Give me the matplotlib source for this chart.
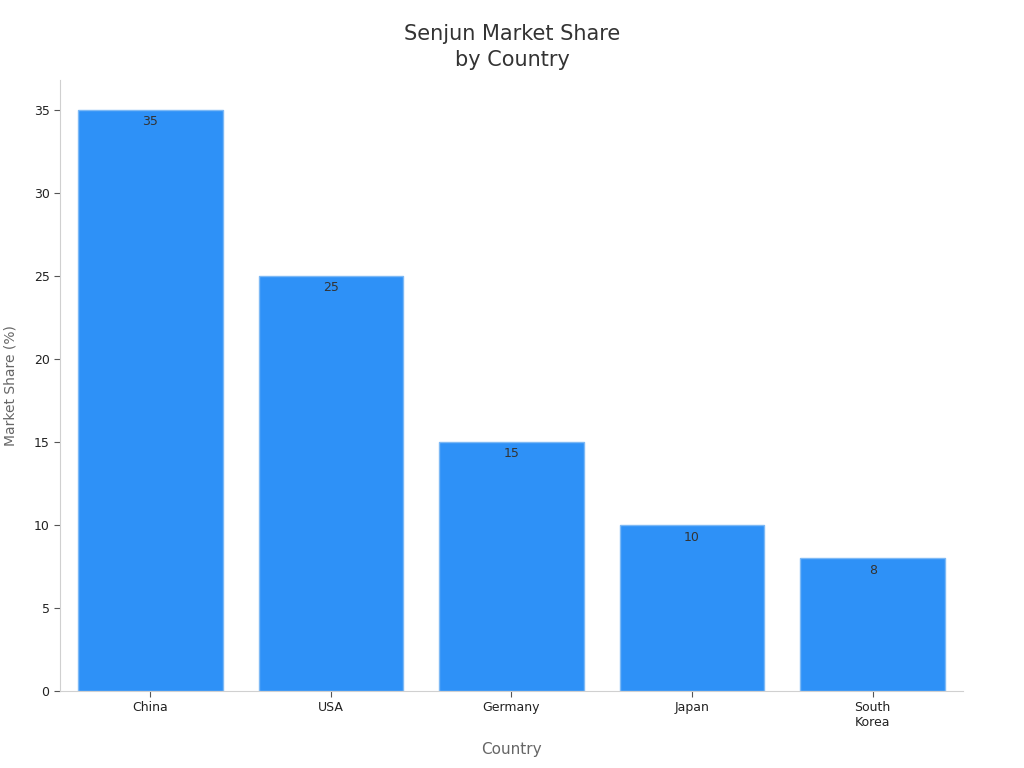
import matplotlib
matplotlib.use("Agg")
import matplotlib.pyplot as plt

countries = ["China", "USA", "Germany", "Japan", "South\nKorea"]
shares = [35, 25, 15, 10, 8]

fig = plt.figure(figsize=(10.24, 7.68), dpi=100)
ax = fig.add_axes([0.0586, 0.1003, 0.8818, 0.7955])

x = list(range(len(countries)))
bars = ax.bar(x, shares, width=0.8, color="#2E91F7", edgecolor="#7DB9F5", linewidth=1)
for b, v in zip(bars, shares):
    ax.annotate(str(v), (b.get_x() + b.get_width() / 2, v), xytext=(0, -4),
                textcoords="offset points", ha="center", va="top",
                fontsize=9, color="#333333")

ax.set_xlim(-0.5, 4.5)
ax.set_ylim(0, 36.8)
ax.set_xticks(x)
ax.set_xticklabels(countries, fontsize=9, color="#222222")
ax.set_yticks([0, 5, 10, 15, 20, 25, 30, 35])
ax.tick_params(axis="y", labelsize=9, labelcolor="#222222", color="#555555", length=4)
ax.tick_params(axis="x", color="#555555", length=4)
for s in ["top", "right"]:
    ax.spines[s].set_visible(False)
for s in ["left", "bottom"]:
    ax.spines[s].set_color("#d0d0d0")
ax.set_xlabel("Country", fontsize=11, color="#666666", labelpad=9)
ax.set_ylabel("Market Share (%)", fontsize=10, color="#666666", labelpad=12)
fig.text(0.5, 0.939, "Senjun Market Share\nby Country", ha="center", va="center",
         fontsize=15, color="#333333", linespacing=1.4)

fig.savefig("out.png", dpi=100)
